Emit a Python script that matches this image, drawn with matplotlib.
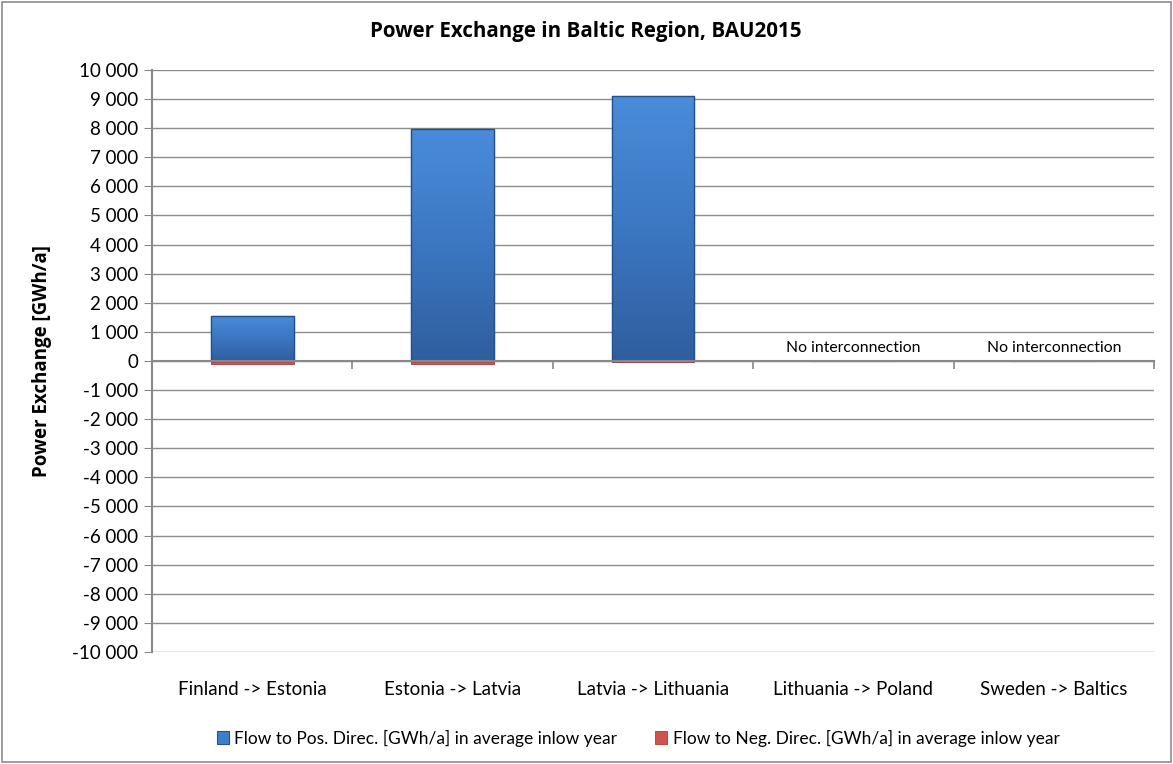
import matplotlib
matplotlib.use("Agg")
import matplotlib.pyplot as plt
from matplotlib.patches import Rectangle
from matplotlib.ticker import FuncFormatter
from matplotlib.colors import LinearSegmentedColormap
import numpy as np

categories = ["Finland -> Estonia", "Estonia -> Latvia", "Latvia -> Lithuania",
              "Lithuania -> Poland", "Sweden -> Baltics"]
pos_flow = [1560, 7980, 9100, 0, 0]
neg_flow = [-120, -120, -40, 0, 0]
no_link = [False, False, False, True, True]
series_names = ["Flow to Pos. Direc. [GWh/a] in average inlow year",
                "Flow to Neg. Direc. [GWh/a] in average inlow year"]
title = "Power Exchange in Baltic Region, BAU2015"
ylabel = "Power Exchange [GWh/a]"

plt.rcParams['font.family'] = ['Lato', 'DejaVu Sans']
bold_family = ['Open Sans', 'DejaVu Sans']

fig = plt.figure(figsize=(11.73, 7.64), dpi=100)
ax = fig.add_axes([152/1173, 1-652/764, (1154-152)/1173, (652-70)/764])

x = np.arange(len(categories))
w = 0.414
pos_bars = ax.bar(x, pos_flow, width=w, color='#3D7ECC', edgecolor='#25528F', linewidth=0.8,
                  label=series_names[0], zorder=3)
neg_bars = ax.bar(x, neg_flow, width=w, color='#D0534F', edgecolor='#B03A36', linewidth=0.6,
                  label=series_names[1], zorder=2)

# gradient shading for positive bars
cmap = LinearSegmentedColormap.from_list("blu", ['#2F5E9E', '#3C77C2', '#4A8CDA'])
grad = np.linspace(0, 1, 256).reshape(-1, 1)
for b in pos_bars:
    h = b.get_height()
    if h <= 0:
        continue
    x0 = b.get_x()
    im = ax.imshow(grad, cmap=cmap, origin='lower', aspect='auto',
                   extent=[x0, x0 + b.get_width(), 0, h], zorder=3.1)
    im.set_clip_path(b)
    edge = Rectangle((x0, 0), b.get_width(), h, fill=False, edgecolor='#24508C',
                     linewidth=1.0, zorder=3.2)
    ax.add_patch(edge)

for i, flag in enumerate(no_link):
    if flag:
        ax.text(x[i], 200, "No interconnection", ha='center', va='bottom',
                fontsize=11.3, color='black')

ax.set_xlim(-0.5, len(categories) - 0.5)
ax.set_ylim(-10000, 10000)
ax.set_yticks(np.arange(-10000, 10001, 1000))
ax.yaxis.set_major_formatter(FuncFormatter(lambda v, p: "{:,}".format(int(v)).replace(",", " ")))
ax.tick_params(axis='y', direction='out', length=6, color='#888888', labelsize=13.5, pad=4)
ax.grid(axis='y', color='#8C8C8C', linewidth=1.0, zorder=0)
ax.set_axisbelow(True)

ax.spines['top'].set_visible(False)
ax.spines['right'].set_visible(False)
ax.spines['left'].set_color('#888888')
ax.spines['left'].set_linewidth(1.5)
ax.spines['bottom'].set_position(('data', 0))
ax.spines['bottom'].set_color('#888888')
ax.spines['bottom'].set_linewidth(1.5)
ax.spines['bottom'].set_zorder(4)

ax.set_xticks(np.arange(-0.5, len(categories), 1.0))
ax.set_xticklabels([])
ax.tick_params(axis='x', direction='out', length=6, color='#888888', width=1.2)

for i, c in enumerate(categories):
    ax.text(x[i], -0.065, c, transform=ax.get_xaxis_transform(), ha='center', va='center',
            fontsize=13.5)

ax.set_ylabel(ylabel, fontsize=13.5, fontweight='bold', family=bold_family)
ax.yaxis.set_label_coords(-0.1, 0.5)

fig.text(0.499, 1-32/764, title, ha='center', va='center', fontsize=14.8,
         fontweight='bold', family=bold_family)

handles, labels = ax.get_legend_handles_labels()
leg = fig.legend(handles, labels, loc='center', bbox_to_anchor=(0.544, 1-738/764), ncol=2,
                 frameon=False, fontsize=12.5, handlelength=0.7, handleheight=0.7,
                 handletextpad=0.3, columnspacing=2.2)

fig.patches.append(Rectangle((0.002, 0.002), 0.996, 0.996, transform=fig.transFigure,
                             fill=False, edgecolor='#8C8C8C', linewidth=1.2))

fig.savefig("out.png", dpi=100)
